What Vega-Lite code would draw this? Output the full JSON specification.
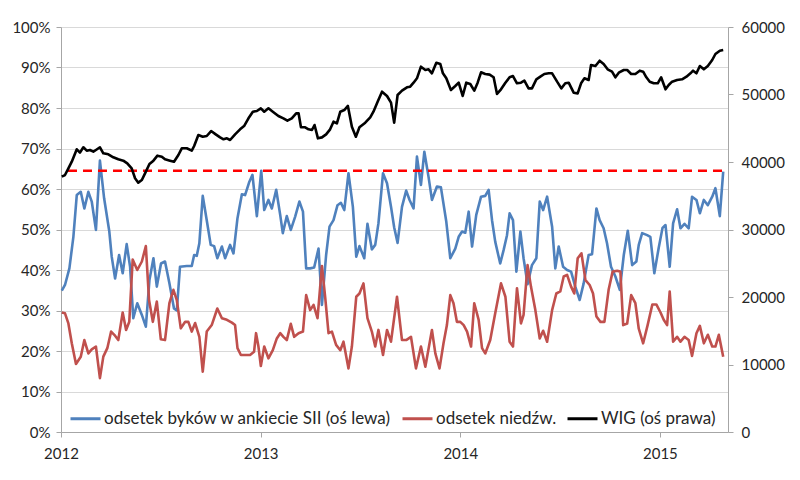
{
  "$schema": "https://vega.github.io/schema/vega-lite/v6.json",
  "width": 667,
  "height": 405,
  "autosize": "none",
  "padding": {"left": 61, "top": 27, "right": 72, "bottom": 48},
  "background": "white",
  "config": {
    "view": {"stroke": null},
    "font": "Lato",
    "axis": {
      "labelFont": "Lato",
      "labelFontSize": 15,
      "labelColor": "#262626",
      "domainColor": "#A6A6A6",
      "tickColor": "#A6A6A6",
      "tickSize": 5,
      "gridColor": "#D9D9D9",
      "title": null
    },
    "legend": {
      "orient": "none",
      "legendX": 6,
      "legendY": 373,
      "direction": "horizontal",
      "symbolType": "stroke",
      "symbolSize": 900,
      "symbolStrokeWidth": 3,
      "labelFont": "Lato",
      "labelFontSize": 17,
      "labelColor": "#262626",
      "labelLimit": 0,
      "labelOffset": 2,
      "columnPadding": 4,
      "padding": 2
    }
  },
  "datasets": {
    "byki": [
      {"t":2012.004,"v":34.9},{"t":2012.020,"v":36.3},{"t":2012.042,"v":40.4},{"t":2012.062,"v":48.2},{"t":2012.079,"v":58.5},{"t":2012.099,"v":59.3},{"t":2012.117,"v":55.2},{"t":2012.137,"v":59.3},{"t":2012.154,"v":56.9},{"t":2012.175,"v":49.9},{"t":2012.195,"v":67.0},{"t":2012.216,"v":57.7},{"t":2012.242,"v":49.5},{"t":2012.254,"v":43.3},{"t":2012.271,"v":37.9},{"t":2012.291,"v":43.7},{"t":2012.309,"v":39.2},{"t":2012.329,"v":46.4},{"t":2012.346,"v":40.8},{"t":2012.362,"v":28.1},{"t":2012.382,"v":31.8},{"t":2012.405,"v":28.9},{"t":2012.425,"v":26.0},{"t":2012.443,"v":37.5},{"t":2012.463,"v":42.9},{"t":2012.480,"v":35.9},{"t":2012.501,"v":41.6},{"t":2012.521,"v":42.1},{"t":2012.543,"v":36.7},{"t":2012.566,"v":30.5},{"t":2012.580,"v":30.0},{"t":2012.596,"v":40.8},{"t":2012.630,"v":41.0},{"t":2012.655,"v":41.0},{"t":2012.667,"v":43.7},{"t":2012.680,"v":43.5},{"t":2012.693,"v":46.6},{"t":2012.710,"v":58.3},{"t":2012.730,"v":52.3},{"t":2012.750,"v":46.2},{"t":2012.767,"v":45.9},{"t":2012.783,"v":42.9},{"t":2012.806,"v":45.8},{"t":2012.822,"v":42.9},{"t":2012.847,"v":46.2},{"t":2012.864,"v":44.1},{"t":2012.884,"v":52.8},{"t":2012.906,"v":58.7},{"t":2012.922,"v":58.5},{"t":2012.942,"v":61.6},{"t":2012.959,"v":63.5},{"t":2012.981,"v":53.3},{"t":2013.003,"v":64.5},{"t":2013.018,"v":54.8},{"t":2013.039,"v":57.3},{"t":2013.056,"v":55.2},{"t":2013.078,"v":59.8},{"t":2013.098,"v":53.6},{"t":2013.111,"v":49.1},{"t":2013.131,"v":53.3},{"t":2013.151,"v":49.9},{"t":2013.173,"v":53.2},{"t":2013.194,"v":56.9},{"t":2013.212,"v":54.4},{"t":2013.228,"v":40.4},{"t":2013.248,"v":40.4},{"t":2013.268,"v":40.6},{"t":2013.290,"v":45.3},{"t":2013.307,"v":31.4},{"t":2013.328,"v":43.7},{"t":2013.345,"v":50.7},{"t":2013.365,"v":52.3},{"t":2013.385,"v":56.0},{"t":2013.402,"v":56.6},{"t":2013.419,"v":54.8},{"t":2013.440,"v":63.9},{"t":2013.462,"v":55.6},{"t":2013.479,"v":43.3},{"t":2013.495,"v":45.9},{"t":2013.519,"v":42.9},{"t":2013.535,"v":51.4},{"t":2013.557,"v":45.1},{"t":2013.574,"v":46.2},{"t":2013.590,"v":51.5},{"t":2013.613,"v":63.9},{"t":2013.633,"v":61.4},{"t":2013.653,"v":55.6},{"t":2013.669,"v":50.5},{"t":2013.686,"v":46.7},{"t":2013.708,"v":55.6},{"t":2013.729,"v":59.6},{"t":2013.746,"v":57.3},{"t":2013.766,"v":55.2},{"t":2013.783,"v":68.0},{"t":2013.803,"v":61.0},{"t":2013.820,"v":69.2},{"t":2013.841,"v":63.0},{"t":2013.858,"v":57.3},{"t":2013.883,"v":60.6},{"t":2013.903,"v":60.4},{"t":2013.930,"v":51.9},{"t":2013.950,"v":42.9},{"t":2013.975,"v":45.3},{"t":2013.992,"v":48.2},{"t":2014.009,"v":49.5},{"t":2014.025,"v":49.2},{"t":2014.042,"v":54.4},{"t":2014.059,"v":45.8},{"t":2014.080,"v":53.6},{"t":2014.104,"v":58.1},{"t":2014.125,"v":58.3},{"t":2014.142,"v":59.8},{"t":2014.159,"v":52.3},{"t":2014.175,"v":47.0},{"t":2014.200,"v":41.6},{"t":2014.217,"v":44.9},{"t":2014.234,"v":48.6},{"t":2014.247,"v":54.0},{"t":2014.264,"v":52.3},{"t":2014.281,"v":39.6},{"t":2014.301,"v":49.5},{"t":2014.317,"v":42.9},{"t":2014.337,"v":36.5},{"t":2014.359,"v":41.2},{"t":2014.381,"v":42.9},{"t":2014.398,"v":56.9},{"t":2014.415,"v":54.8},{"t":2014.435,"v":58.1},{"t":2014.460,"v":50.7},{"t":2014.476,"v":40.4},{"t":2014.493,"v":45.8},{"t":2014.515,"v":40.8},{"t":2014.535,"v":40.0},{"t":2014.555,"v":39.6},{"t":2014.576,"v":35.9},{"t":2014.598,"v":32.6},{"t":2014.618,"v":36.7},{"t":2014.643,"v":43.7},{"t":2014.660,"v":43.9},{"t":2014.682,"v":55.2},{"t":2014.698,"v":52.3},{"t":2014.718,"v":50.3},{"t":2014.735,"v":46.6},{"t":2014.755,"v":40.8},{"t":2014.777,"v":38.4},{"t":2014.799,"v":35.1},{"t":2014.819,"v":43.7},{"t":2014.839,"v":49.7},{"t":2014.861,"v":41.2},{"t":2014.882,"v":42.1},{"t":2014.894,"v":46.2},{"t":2014.911,"v":49.1},{"t":2014.936,"v":48.6},{"t":2014.952,"v":48.2},{"t":2014.972,"v":39.2},{"t":2014.994,"v":45.5},{"t":2015.013,"v":50.4},{"t":2015.028,"v":51.1},{"t":2015.049,"v":40.8},{"t":2015.066,"v":51.5},{"t":2015.086,"v":55.0},{"t":2015.103,"v":50.3},{"t":2015.123,"v":51.4},{"t":2015.144,"v":50.3},{"t":2015.161,"v":58.1},{"t":2015.183,"v":57.3},{"t":2015.200,"v":54.0},{"t":2015.220,"v":57.3},{"t":2015.240,"v":56.0},{"t":2015.262,"v":58.1},{"t":2015.278,"v":60.2},{"t":2015.300,"v":53.3},{"t":2015.317,"v":64.3}
    ],
    "niedz": [
      {"t":2012.004,"v":29.5},{"t":2012.020,"v":29.3},{"t":2012.037,"v":26.8},{"t":2012.054,"v":21.9},{"t":2012.075,"v":16.8},{"t":2012.099,"v":18.6},{"t":2012.117,"v":22.7},{"t":2012.137,"v":19.4},{"t":2012.154,"v":20.4},{"t":2012.175,"v":21.1},{"t":2012.195,"v":13.3},{"t":2012.212,"v":18.6},{"t":2012.232,"v":20.7},{"t":2012.251,"v":24.8},{"t":2012.267,"v":24.0},{"t":2012.287,"v":22.7},{"t":2012.309,"v":29.5},{"t":2012.326,"v":25.2},{"t":2012.342,"v":27.2},{"t":2012.359,"v":42.6},{"t":2012.382,"v":40.0},{"t":2012.405,"v":42.1},{"t":2012.425,"v":45.9},{"t":2012.441,"v":32.6},{"t":2012.460,"v":27.2},{"t":2012.480,"v":32.2},{"t":2012.500,"v":22.9},{"t":2012.521,"v":22.7},{"t":2012.543,"v":31.8},{"t":2012.563,"v":35.1},{"t":2012.580,"v":32.6},{"t":2012.600,"v":25.6},{"t":2012.622,"v":27.2},{"t":2012.638,"v":27.2},{"t":2012.655,"v":24.8},{"t":2012.672,"v":26.9},{"t":2012.693,"v":23.5},{"t":2012.710,"v":14.9},{"t":2012.730,"v":24.8},{"t":2012.755,"v":26.4},{"t":2012.783,"v":30.5},{"t":2012.806,"v":28.1},{"t":2012.831,"v":27.7},{"t":2012.856,"v":27.0},{"t":2012.872,"v":26.4},{"t":2012.884,"v":20.7},{"t":2012.901,"v":19.0},{"t":2012.922,"v":19.0},{"t":2012.947,"v":19.0},{"t":2012.967,"v":19.8},{"t":2012.977,"v":24.4},{"t":2012.989,"v":21.1},{"t":2013.001,"v":16.3},{"t":2013.018,"v":21.1},{"t":2013.039,"v":18.2},{"t":2013.061,"v":20.2},{"t":2013.081,"v":23.1},{"t":2013.098,"v":24.4},{"t":2013.114,"v":23.5},{"t":2013.131,"v":22.7},{"t":2013.151,"v":26.7},{"t":2013.168,"v":23.5},{"t":2013.190,"v":24.4},{"t":2013.212,"v":24.8},{"t":2013.228,"v":33.8},{"t":2013.248,"v":30.1},{"t":2013.265,"v":31.4},{"t":2013.285,"v":28.1},{"t":2013.307,"v":41.0},{"t":2013.323,"v":33.4},{"t":2013.340,"v":24.4},{"t":2013.357,"v":24.8},{"t":2013.378,"v":21.5},{"t":2013.399,"v":20.2},{"t":2013.415,"v":22.3},{"t":2013.440,"v":15.7},{"t":2013.457,"v":21.1},{"t":2013.479,"v":33.4},{"t":2013.495,"v":34.2},{"t":2013.515,"v":36.7},{"t":2013.535,"v":28.1},{"t":2013.557,"v":24.8},{"t":2013.574,"v":21.1},{"t":2013.590,"v":25.2},{"t":2013.613,"v":19.0},{"t":2013.633,"v":25.2},{"t":2013.653,"v":22.3},{"t":2013.683,"v":33.4},{"t":2013.708,"v":22.7},{"t":2013.729,"v":22.7},{"t":2013.753,"v":23.5},{"t":2013.778,"v":15.7},{"t":2013.803,"v":21.1},{"t":2013.825,"v":16.1},{"t":2013.858,"v":25.2},{"t":2013.875,"v":19.4},{"t":2013.896,"v":15.7},{"t":2013.916,"v":21.9},{"t":2013.933,"v":26.4},{"t":2013.950,"v":33.8},{"t":2013.966,"v":31.8},{"t":2013.983,"v":27.2},{"t":2014.000,"v":27.2},{"t":2014.017,"v":26.4},{"t":2014.034,"v":24.8},{"t":2014.054,"v":21.1},{"t":2014.070,"v":31.8},{"t":2014.092,"v":27.7},{"t":2014.109,"v":20.7},{"t":2014.125,"v":19.4},{"t":2014.150,"v":22.7},{"t":2014.175,"v":29.3},{"t":2014.204,"v":36.7},{"t":2014.226,"v":33.4},{"t":2014.247,"v":22.3},{"t":2014.264,"v":21.1},{"t":2014.284,"v":35.5},{"t":2014.304,"v":26.8},{"t":2014.317,"v":28.9},{"t":2014.337,"v":41.2},{"t":2014.354,"v":35.9},{"t":2014.376,"v":30.1},{"t":2014.398,"v":23.1},{"t":2014.415,"v":25.0},{"t":2014.435,"v":22.3},{"t":2014.460,"v":30.1},{"t":2014.481,"v":34.2},{"t":2014.501,"v":34.7},{"t":2014.518,"v":38.4},{"t":2014.535,"v":38.8},{"t":2014.555,"v":35.9},{"t":2014.571,"v":34.2},{"t":2014.588,"v":42.9},{"t":2014.607,"v":44.1},{"t":2014.627,"v":37.5},{"t":2014.648,"v":36.3},{"t":2014.665,"v":34.2},{"t":2014.682,"v":28.5},{"t":2014.702,"v":27.2},{"t":2014.722,"v":27.2},{"t":2014.743,"v":35.1},{"t":2014.763,"v":39.6},{"t":2014.786,"v":39.8},{"t":2014.802,"v":39.6},{"t":2014.816,"v":26.4},{"t":2014.836,"v":26.8},{"t":2014.856,"v":33.8},{"t":2014.877,"v":31.8},{"t":2014.894,"v":25.5},{"t":2014.916,"v":21.9},{"t":2014.939,"v":26.5},{"t":2014.962,"v":31.5},{"t":2014.982,"v":31.5},{"t":2015.003,"v":29.5},{"t":2015.019,"v":27.7},{"t":2015.036,"v":26.4},{"t":2015.049,"v":34.7},{"t":2015.066,"v":22.3},{"t":2015.086,"v":23.5},{"t":2015.103,"v":22.3},{"t":2015.123,"v":23.5},{"t":2015.144,"v":22.7},{"t":2015.161,"v":18.8},{"t":2015.183,"v":24.4},{"t":2015.200,"v":26.2},{"t":2015.220,"v":21.9},{"t":2015.240,"v":24.0},{"t":2015.262,"v":21.1},{"t":2015.278,"v":21.1},{"t":2015.295,"v":24.0},{"t":2015.317,"v":18.6}
    ],
    "prog": [
      {"t":2012.035,"v":64.5},{"t":2015.340,"v":64.5}
    ],
    "wig": [
      {"t":2012.004,"w":37820},{"t":2012.020,"w":38070},{"t":2012.037,"w":39060},{"t":2012.054,"w":40050},{"t":2012.079,"w":41880},{"t":2012.095,"w":41390},{"t":2012.112,"w":42180},{"t":2012.129,"w":41680},{"t":2012.145,"w":41780},{"t":2012.162,"w":41530},{"t":2012.175,"w":41780},{"t":2012.195,"w":42180},{"t":2012.212,"w":41290},{"t":2012.237,"w":41140},{"t":2012.262,"w":40700},{"t":2012.287,"w":40400},{"t":2012.312,"w":40200},{"t":2012.332,"w":39800},{"t":2012.354,"w":39060},{"t":2012.371,"w":37590},{"t":2012.387,"w":36940},{"t":2012.405,"w":37330},{"t":2012.421,"w":38320},{"t":2012.443,"w":39700},{"t":2012.463,"w":40200},{"t":2012.483,"w":40940},{"t":2012.505,"w":40790},{"t":2012.521,"w":40400},{"t":2012.546,"w":40200},{"t":2012.566,"w":40050},{"t":2012.588,"w":41040},{"t":2012.605,"w":42030},{"t":2012.630,"w":42030},{"t":2012.655,"w":41680},{"t":2012.667,"w":42370},{"t":2012.688,"w":44000},{"t":2012.710,"w":43750},{"t":2012.730,"w":43850},{"t":2012.752,"w":44590},{"t":2012.775,"w":44100},{"t":2012.797,"w":43650},{"t":2012.814,"w":43360},{"t":2012.831,"w":43510},{"t":2012.847,"w":43260},{"t":2012.872,"w":44100},{"t":2012.897,"w":44840},{"t":2012.917,"w":45330},{"t":2012.939,"w":46470},{"t":2012.961,"w":47450},{"t":2012.981,"w":47560},{"t":2013.001,"w":47950},{"t":2013.018,"w":47450},{"t":2013.039,"w":47950},{"t":2013.061,"w":47450},{"t":2013.089,"w":46820},{"t":2013.114,"w":46470},{"t":2013.134,"w":46120},{"t":2013.156,"w":46470},{"t":2013.178,"w":47210},{"t":2013.190,"w":47210},{"t":2013.202,"w":45140},{"t":2013.223,"w":45140},{"t":2013.240,"w":44840},{"t":2013.257,"w":44740},{"t":2013.270,"w":45480},{"t":2013.287,"w":43510},{"t":2013.307,"w":43650},{"t":2013.328,"w":44100},{"t":2013.348,"w":44840},{"t":2013.365,"w":45970},{"t":2013.382,"w":45730},{"t":2013.399,"w":47450},{"t":2013.419,"w":47700},{"t":2013.437,"w":48300},{"t":2013.457,"w":45230},{"t":2013.477,"w":43750},{"t":2013.495,"w":45140},{"t":2013.524,"w":45820},{"t":2013.549,"w":46620},{"t":2013.565,"w":47450},{"t":2013.586,"w":48930},{"t":2013.608,"w":50420},{"t":2013.633,"w":49780},{"t":2013.653,"w":48790},{"t":2013.669,"w":45820},{"t":2013.686,"w":49930},{"t":2013.708,"w":50570},{"t":2013.733,"w":51060},{"t":2013.749,"w":51160},{"t":2013.766,"w":51750},{"t":2013.783,"w":52400},{"t":2013.803,"w":54120},{"t":2013.825,"w":53630},{"t":2013.841,"w":53730},{"t":2013.858,"w":53140},{"t":2013.880,"w":54710},{"t":2013.900,"w":54520},{"t":2013.913,"w":53140},{"t":2013.930,"w":52400},{"t":2013.953,"w":50670},{"t":2013.975,"w":51260},{"t":2013.992,"w":51750},{"t":2014.012,"w":49780},{"t":2014.030,"w":51750},{"t":2014.050,"w":51560},{"t":2014.070,"w":50570},{"t":2014.087,"w":51750},{"t":2014.104,"w":53290},{"t":2014.125,"w":53040},{"t":2014.147,"w":52940},{"t":2014.167,"w":52550},{"t":2014.184,"w":50080},{"t":2014.204,"w":50770},{"t":2014.226,"w":51750},{"t":2014.247,"w":52550},{"t":2014.264,"w":52740},{"t":2014.284,"w":51660},{"t":2014.304,"w":51750},{"t":2014.321,"w":52050},{"t":2014.342,"w":50910},{"t":2014.359,"w":50910},{"t":2014.381,"w":52250},{"t":2014.401,"w":52640},{"t":2014.421,"w":53040},{"t":2014.443,"w":53140},{"t":2014.460,"w":53140},{"t":2014.485,"w":51900},{"t":2014.506,"w":50910},{"t":2014.526,"w":51660},{"t":2014.543,"w":51750},{"t":2014.568,"w":50270},{"t":2014.588,"w":50170},{"t":2014.605,"w":51660},{"t":2014.622,"w":52400},{"t":2014.643,"w":52150},{"t":2014.655,"w":54370},{"t":2014.677,"w":54220},{"t":2014.698,"w":55010},{"t":2014.718,"w":54520},{"t":2014.738,"w":53730},{"t":2014.760,"w":53380},{"t":2014.777,"w":52550},{"t":2014.794,"w":53230},{"t":2014.819,"w":53630},{"t":2014.836,"w":53630},{"t":2014.856,"w":53040},{"t":2014.877,"w":53040},{"t":2014.899,"w":53530},{"t":2014.916,"w":53380},{"t":2014.932,"w":52550},{"t":2014.949,"w":51900},{"t":2014.969,"w":51660},{"t":2014.989,"w":51660},{"t":2015.006,"w":52550},{"t":2015.028,"w":50770},{"t":2015.044,"w":51410},{"t":2015.061,"w":51900},{"t":2015.086,"w":52150},{"t":2015.111,"w":52250},{"t":2015.133,"w":52640},{"t":2015.153,"w":53140},{"t":2015.166,"w":53530},{"t":2015.183,"w":53140},{"t":2015.200,"w":54220},{"t":2015.220,"w":53730},{"t":2015.240,"w":54220},{"t":2015.262,"w":55110},{"t":2015.278,"w":56000},{"t":2015.300,"w":56490},{"t":2015.317,"w":56590}
    ]
  },
  "encoding": {
    "x": {
      "field": "t",
      "type": "quantitative",
      "scale": {"domain": [2012, 2015.341], "nice": false, "zero": false},
      "axis": {"values": [2012, 2013, 2014, 2015], "format": "d", "grid": false, "labelPadding": 9, "labelFlush": false}
    }
  },
  "layer": [
    {
      "encoding": {
        "y": {
          "field": "v",
          "type": "quantitative",
          "scale": {"domain": [0, 100], "nice": false},
          "axis": {
            "values": [0, 10, 20, 30, 40, 50, 60, 70, 80, 90, 100],
            "labelExpr": "datum.value + '%'",
            "grid": true,
            "labelPadding": 6
          }
        }
      },
      "layer": [
        {
          "data": {"name": "byki"},
          "mark": {"type": "line", "strokeWidth": 2.6, "strokeJoin": "round"},
          "encoding": {"color": {"datum": "odsetek byków w ankiecie SII (oś lewa)"}}
        },
        {
          "data": {"name": "niedz"},
          "mark": {"type": "line", "strokeWidth": 2.6, "strokeJoin": "round"},
          "encoding": {"color": {"datum": "odsetek niedźw."}}
        },
        {
          "data": {"name": "prog"},
          "mark": {"type": "line", "strokeWidth": 2.5, "strokeDash": [9, 6], "color": "#FF0000"},
          "encoding": {}
        }
      ]
    },
    {
      "data": {"name": "wig"},
      "mark": {"type": "line", "strokeWidth": 2.6, "strokeJoin": "round"},
      "encoding": {
        "y": {
          "field": "w",
          "type": "quantitative",
          "scale": {"domain": [0, 60000], "nice": false},
          "axis": {
            "orient": "right",
            "values": [0, 10000, 20000, 30000, 40000, 50000, 60000],
            "format": "d",
            "grid": false,
            "labelPadding": 8
          }
        },
        "color": {
          "datum": "WIG (oś prawa)",
          "scale": {
            "domain": ["odsetek byków w ankiecie SII (oś lewa)", "odsetek niedźw.", "WIG (oś prawa)"],
            "range": ["#4F81BD", "#C0504D", "#000000"]
          },
          "legend": {"title": null}
        }
      }
    }
  ],
  "resolve": {"scale": {"y": "independent"}}
}
